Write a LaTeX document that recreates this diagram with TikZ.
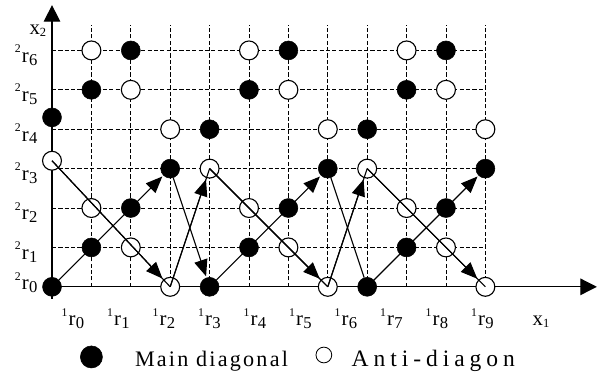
\documentclass[tikz,border=0pt]{standalone}
\usepackage{fontspec}
\setmainfont{Liberation Serif}
\usetikzlibrary{arrows.meta}
\newcommand{\rlab}[2]{\raisebox{7pt}{\fontsize{8.5}{8.5}\selectfont #1}\kern0.8pt r\kern0.3pt\raisebox{-2pt}{\fontsize{12}{12}\selectfont #2}}
\tikzset{
  gridline/.style={dash pattern=on 3pt off 1.6pt, line width=0.65pt},
  axis/.style={line width=0.9pt, -{Triangle[length=0.42cm,width=0.42cm]}},
  main/.style={circle, fill=black, draw=black, minimum size=0.48cm, inner sep=0pt},
  anti/.style={circle, fill=white, draw=black, line width=0.8pt, minimum size=0.48cm, inner sep=0pt},
  link/.style={line width=0.8pt},
  linkarrow/.style={link, -{Triangle[length=0.42cm,width=0.34cm]}, shorten >=1pt},
  rlabel/.style={font=\fontsize{15}{15}\selectfont, inner sep=0pt},
  legend/.style={font=\fontsize{16}{16}\selectfont, anchor=base west, inner sep=0pt},
}

\begin{document}
\begin{tikzpicture}
  \useasboundingbox (-1.32,-2.18) rectangle (13.96,7.28);

  % dashed grid
  \foreach \r in {1,...,6}
    \draw[gridline] (0,\r) -- (11,\r);
  \foreach \c in {1,...,11}
    \draw[gridline] (\c,0) -- (\c,6.65);

  % axes
  \draw[axis] (0,-0.3) -- (0,7.15);
  \draw[axis] (0,0) -- (13.83,0);

  % axis labels
  \foreach \k in {1,...,6}
    \node[rlabel, anchor=base east] (y\k) at (-0.36,\k-0.3) {\rlab{2}{\k}};
  \node[rlabel, anchor=base east] (y0) at (-0.36,-0.08) {\rlab{2}{0}};
  \foreach \k in {0,...,9}
    \node[rlabel, anchor=base] (x\k) at ({0.53+1.155*\k},-0.99) {\rlab{1}{\k}};
  \node[rlabel, anchor=base] (xone) at (12.41,-0.97) {x\raisebox{-2pt}{\fontsize{9}{9}\selectfont 1}};
  \node[rlabel] (xtwo) at (-0.36,6.5) {x\raisebox{-2pt}{\fontsize{9}{9}\selectfont 2}};

  % main diagonal points
  \foreach \c/\r in {0/0,1/1,2/2,3/3,4/0,5/1,6/2,7/3,8/0,9/1,10/2,11/3,
                     1/5,2/6,4/4,5/5,6/6,8/4,9/5,10/6}
    \node[main] (m-\c-\r) at (\c,\r) {};
  \node[main] (m-0-4) at (0,4.3) {};

  % anti-diagonal points
  \foreach \c/\r in {1/2,2/1,3/0,4/3,5/2,6/1,7/0,8/3,9/2,10/1,11/0,
                     3/4,2/5,1/6,7/4,6/5,5/6,11/4,10/5,9/6}
    \node[anti] (a-\c-\r) at (\c,\r) {};
  \node[anti] (a-0-3) at (0,3.2) {};

  % scan order
  \draw[linkarrow] (m-0-0) -- (m-3-3);
  \draw[link] (a-0-3.center) -- (a-3-0.center);
  \draw[linkarrow] (a-0-3.center) -- (a-3-0);
  \draw[linkarrow] (m-3-3) -- (m-4-0);
  \draw[link] (a-3-0.center) -- (a-4-3.center);
  \draw[linkarrow] (a-3-0.center) -- (a-4-3);
  \draw[linkarrow] (m-4-0) -- (m-7-3);
  \draw[link] (a-4-3.center) -- (a-7-0.center);
  \draw[linkarrow] (a-4-3.center) -- (a-7-0);
  \draw[link] (m-7-3) -- (m-8-0);
  \draw[link] (a-7-0.center) -- (a-8-3.center);
  \draw[linkarrow] (a-7-0.center) -- (a-8-3);
  \draw[linkarrow] (m-8-0) -- (m-11-3);
  \draw[link] (a-8-3.center) -- (a-11-0.center);
  \draw[linkarrow] (a-8-3.center) -- (a-11-0);

  % legend
  \node[main, minimum size=0.56cm] (keymain) at (1.0,-1.78) {};
  \node[legend] (keymaintext) at (2.1,-2.03) {\addfontfeatures{LetterSpace=10}Main diagonal};
  \node[anti, minimum size=0.4cm, line width=0.6pt] (keyanti) at (6.9,-1.73) {};
  \node[legend, font=\fontsize{17}{17}\selectfont] (keyantitext) at (7.6,-2.03) {\addfontfeatures{LetterSpace=21}Anti-diagon};
\end{tikzpicture}
\end{document}
